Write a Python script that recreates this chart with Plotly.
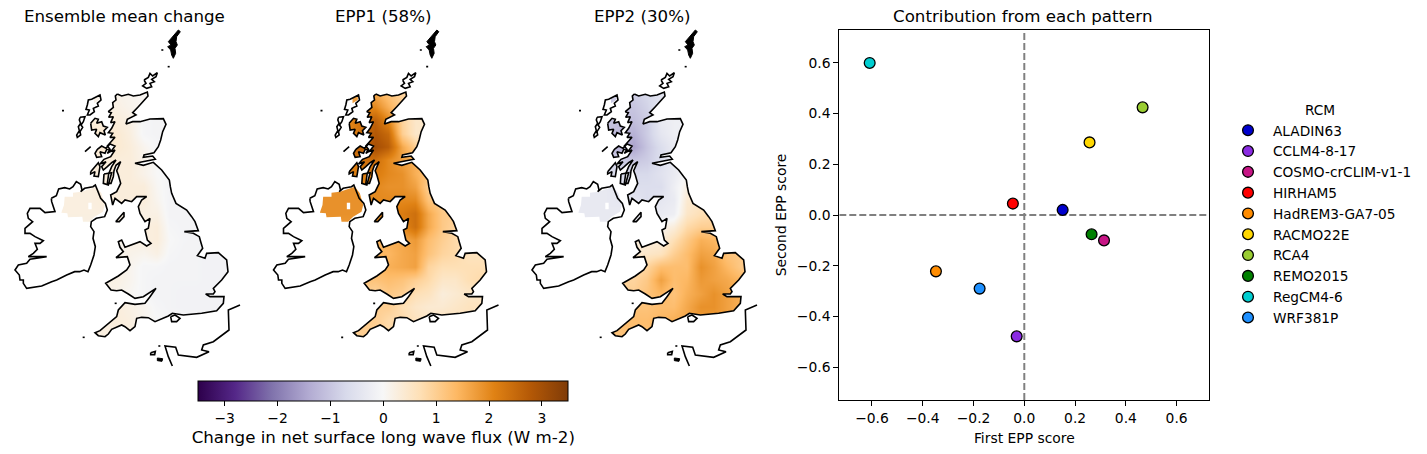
import plotly.graph_objects as go

W, H = 1419, 446
OX, OY = 8, 8   # the page body's own margin
RCMS = ["ALADIN63","CCLM4-8-17","COSMO-crCLIM-v1-1","HIRHAM5","HadREM3-GA7-05","RACMO22E","RCA4","REMO2015","RegCM4-6","WRF381P"]
EPP1_SCORE = [0.151,-0.030,0.314,-0.045,-0.348,0.257,0.466,0.265,-0.609,-0.176]
EPP2_SCORE = [0.020,-0.478,-0.100,0.045,-0.222,0.286,0.424,-0.076,0.599,-0.290]
RCM_COLOURS = ["#0000cd","#8a2be2","#c71585","#ff0000","#ff8c00","#ffd700","#9acd32","#008000","#00ced1","#1e90ff"]
PUOR_R = ["#2d004b","#542788","#8073ac","#b2abd2","#d8daeb","#f7f7f7","#fee0b6","#fdb863","#e08214","#b35806","#7f3b08"]

GRID_X = [190,230,270,310,350,390,430,470,510,550,590,630,670,710]
GRID_Y = [220,260,300,340,380,420,460,500,540,580,620,660,700,740,780,820,860,900,940]

MEAN = [
[.15,.15,.15,.15,.15,.10,.05,.0,.0,.0,.0,.0,.0,.0],
[.2,.2,.2,.2,.2,.12,.05,.0,.0,.0,.0,.0,.0,.0],
[.3,.3,.3,.3,.3,.2,-.05,-.1,-.1,-.1,-.1,-.1,-.1,-.1],
[.35,.35,.4,.4,.4,.25,-.05,-.1,-.1,-.1,-.1,-.1,-.1,-.1],
[.35,.35,.4,.4,.4,.3,.1,-.05,-.1,-.1,-.1,-.1,-.1,-.1],
[.3,.3,.3,.3,.3,.3,.15,.0,-.05,-.1,-.1,-.1,-.1,-.1],
[.3,.3,.3,.3,.3,.3,.15,.0,-.05,-.1,-.1,-.1,-.1,-.1],
[.25,.25,.25,.3,.3,.3,.3,.05,-.08,-.1,-.1,-.1,-.1,-.1],
[.25,.25,.25,.3,.3,.3,.3,.1,-.1,-.1,-.1,-.1,-.1,-.1],
[.25,.25,.25,.25,.25,.25,.2,.2,-.1,-.1,-.1,-.1,-.1,-.1],
[.2,.2,.2,.2,.2,.2,.25,.3,-.05,-.1,-.1,-.1,-.1,-.1],
[.1,.1,.1,.1,.1,.2,.25,.3,.0,-.08,-.1,-.1,-.1,-.1],
[.1,.1,.1,.1,.1,.15,.1,.2,-.05,-.1,-.1,-.12,-.12,-.12],
[.2,.2,.2,.2,.2,.1,-.05,-.05,-.1,-.1,-.1,-.12,-.12,-.12],
[.2,.2,.2,.2,.2,.1,-.05,-.1,-.1,-.1,-.1,-.12,-.12,-.12],
[.15,.15,.15,.15,.15,.05,-.05,-.1,-.1,-.12,-.12,-.12,-.12,-.12],
[.3,.3,.3,.3,.3,.2,.1,-.05,-.1,-.12,-.12,-.12,-.12,-.12],
[.25,.25,.25,.25,.3,.25,.1,.0,-.05,-.05,-.05,-.05,-.05,-.05],
[.25,.25,.25,.25,.25,.25,.1,.0,-.05,-.05,-.05,-.05,-.05,-.05],
]
EPP1 = [
[1.6,1.6,1.6,1.6,1.6,1.2,.9,.9,.9,.9,.9,.9,.9,.9],
[1.8,1.8,1.8,2.0,2.0,1.5,1.0,.8,.8,.8,.8,.8,.8,.8],
[2.0,2.0,2.0,2.4,2.6,2.0,.9,.5,.5,.5,.5,.5,.5,.5],
[2.0,2.0,2.0,2.4,2.8,2.5,1.0,.5,.5,.5,.5,.5,.5,.5],
[2.4,2.4,2.4,2.6,3.0,2.7,1.6,1.0,1.0,1.0,1.0,1.0,1.0,1.0],
[2.2,2.2,2.2,2.4,2.4,2.0,1.7,1.5,1.5,1.5,1.5,1.5,1.5,1.5],
[2.0,2.0,2.0,2.2,2.2,2.0,1.9,1.5,1.2,1.2,1.2,1.2,1.2,1.2],
[1.9,1.9,1.9,1.9,2.0,1.9,1.9,1.7,1.0,1.0,1.0,1.0,1.0,1.0],
[1.9,1.9,1.9,1.9,2.0,2.0,2.0,2.0,1.2,1.0,1.0,1.0,1.0,1.0],
[1.9,1.9,1.9,1.9,2.0,2.1,2.2,2.4,1.6,1.1,1.0,1.0,1.0,1.0],
[1.8,1.8,1.8,1.8,1.8,1.9,2.0,2.4,1.6,1.1,.9,.9,.9,.9],
[1.4,1.4,1.4,1.4,1.4,1.5,1.6,1.8,1.3,1.0,.8,.7,.7,.7],
[1.4,1.4,1.4,1.4,1.4,1.4,1.6,1.7,1.2,.9,.8,.6,.6,.6],
[1.4,1.4,1.4,1.4,1.4,1.5,1.6,1.7,.9,.7,.7,.7,.7,.7],
[1.2,1.2,1.2,1.2,1.2,1.3,1.2,1.0,.8,.5,.5,.7,.8,.8],
[1.0,1.0,1.0,1.0,.9,1.1,1.0,.7,.6,.3,.4,.5,.5,.5],
[1.0,1.0,1.0,1.0,1.0,1.0,.7,.5,.4,.4,.5,.6,.6,.6],
[1.1,1.1,1.1,1.1,1.0,.8,.8,.6,.5,.6,.6,.6,.6,.6],
[1.0,1.0,1.0,1.0,1.0,.8,.8,.6,.5,.6,.6,.6,.6,.6],
]
EPP2 = [
[-.9,-.9,-.9,-.9,-.9,-.7,-.5,-.4,-.4,-.4,-.4,-.4,-.4,-.4],
[-1.0,-1.0,-1.0,-1.0,-1.0,-.8,-.4,-.3,-.3,-.3,-.3,-.3,-.3,-.3],
[-1.0,-1.0,-1.0,-1.1,-1.1,-.9,-.3,-.2,-.2,-.2,-.2,-.2,-.2,-.2],
[-1.0,-1.0,-1.1,-1.2,-1.3,-.9,-.4,-.2,-.2,-.2,-.2,-.2,-.2,-.2],
[-1.0,-1.0,-1.1,-1.3,-1.5,-1.0,-.6,-.3,-.3,-.3,-.3,-.3,-.3,-.3],
[-.8,-.8,-.8,-.9,-1.0,-.9,-.6,-.3,-.2,-.2,-.2,-.2,-.2,-.2],
[-.6,-.6,-.6,-.7,-.7,-.7,-.5,-.3,.0,.0,.0,.0,.0,.0],
[-.35,-.35,-.35,-.5,-.6,-.6,-.6,-.2,.2,.2,.2,.2,.2,.2],
[-.35,-.35,-.35,-.4,-.4,-.6,-.4,-.3,.4,.5,.5,.5,.5,.5],
[-.35,-.35,-.35,-.3,-.3,-.3,-.3,-.2,.5,.7,.8,.8,.8,.8],
[-.3,-.3,-.3,-.2,-.1,.0,.1,.3,.8,1.0,1.0,1.0,1.0,1.0],
[.3,.3,.3,.3,.3,.3,.3,.7,1.1,1.5,1.4,1.2,1.2,1.2],
[.4,.4,.4,.4,.4,.5,.6,1.0,1.3,1.7,1.6,1.2,1.1,1.1],
[.7,.7,.7,.7,.7,.9,1.3,1.3,1.3,1.9,1.7,1.4,1.1,1.1],
[.9,.9,.9,.9,.9,1.1,1.7,1.3,1.4,1.8,1.7,1.6,1.4,1.4],
[1.0,1.0,1.0,1.0,1.0,1.2,1.4,1.2,1.5,1.7,1.9,1.7,1.5,1.5],
[1.2,1.2,1.2,1.2,1.2,1.2,1.3,1.3,1.6,1.9,1.9,1.7,1.5,1.5],
[1.3,1.3,1.3,1.3,1.3,1.3,1.4,1.5,1.6,1.8,1.8,1.7,1.5,1.5],
[1.2,1.2,1.2,1.2,1.3,1.3,1.4,1.5,1.6,1.8,1.8,1.7,1.5,1.5],
]

GB = [(352,222),(365,228),(385,223),(400,228),(420,225),(442,216),(444,228),(432,240),(415,260),(398,278),(408,285),(382,298),(378,312),(398,305),(420,305),(450,297),(490,296),(498,313),(488,335),(482,360),(475,380),(462,398),(432,405),(430,412),(458,408),(466,418),(440,423),(405,430),(430,436),(460,427),(485,450),(497,465),(508,480),(511,500),(515,520),(528,550),(545,560),(560,570),(575,590),(585,605),(595,632),(580,633),(553,635),(580,640),(598,650),(603,668),(608,685),(592,707),(615,715),(620,700),(655,698),(680,720),(684,755),(665,780),(655,790),(640,805),(645,815),(640,822),(617,822),(630,830),(672,830),(670,850),(650,872),(605,880),(550,885),(517,880),(505,888),(490,895),(465,905),(445,893),(425,892),(410,895),(405,920),(390,932),(375,920),(365,915),(335,928),(325,942),(315,950),(295,947),(285,938),(300,932),(330,905),(350,890),(355,870),(375,848),(405,853),(435,850),(450,830),(468,805),(430,830),(405,835),(385,822),(365,810),(350,812),(333,810),(317,790),(340,778),(355,768),(380,750),(390,735),(382,710),(348,713),(370,695),(360,682),(355,665),(365,660),(375,682),(395,675),(420,665),(440,678),(453,670),(442,660),(435,630),(445,625),(450,595),(435,605),(420,580),(415,560),(425,540),(440,530),(410,530),(395,545),(375,540),(365,550),(345,535),(338,555),(332,525),(350,515),(362,490),(355,465),(350,452),(362,425),(348,436),(342,452),(340,470),(333,490),(322,490),(326,462),(335,440),(348,420),(335,428),(322,440),(310,450),(305,440),(318,425),(300,432),(312,418),(332,410),(345,390),(328,396),(322,400),(330,388),(322,378),(345,352),(330,352),(338,340),(325,338),(335,325),(345,305),(332,308),(340,290),(326,292),(334,278),(325,275),(340,262),(338,248),(348,240),(346,228),(352,222)]
IRELAND = [(154,535),(169,527),(176,507),(194,503),(209,507),(219,500),(229,485),(242,493),(246,510),(242,515),(254,505),(279,500),(286,495),(294,515),(302,535),(316,550),(322,570),(314,590),(289,595),(274,605),(272,620),(282,635),(279,655),(286,680),(282,705),(272,735),(264,755),(252,750),(239,755),(224,755),(200,765),(170,780),(155,785),(125,798),(100,802),(80,805),(70,790),(70,780),(60,780),(58,765),(45,750),(55,735),(80,730),(90,718),(140,710),(85,710),(100,700),(112,688),(105,670),(120,670),(130,662),(105,650),(90,640),(75,640),(75,625),(90,610),(98,605),(85,595),(82,580),(90,565),(120,565),(135,578),(165,575),(155,545),(154,535)]
NI_AREA = [(194,530),(219,530),(219,518),(244,515),(289,500),(304,520),(314,555),(309,575),(284,590),(269,605),(249,605),(247,590),(204,592),(202,580),(184,578),(192,555),(194,530)]
NI_GAP = [(265,548),(275,548),(275,568),(265,568),(265,548)]
MAN = [(347,605),(372,577),(372,590),(358,605),(347,605)]
WIGHT = [(512,890),(525,885),(540,895),(530,905),(515,905),(512,890)]
LEWIS = [(262,255),(265,240),(275,238),(285,232),(300,225),(303,240),(292,250),(295,258),(280,265),(283,275),(270,285),(262,285),(268,270),(258,268),(262,255)]
LEWIS_LAND = [(282,234),(298,228),(298,240),(282,250),(282,234)]
UIST = [(240,292),(255,290),(250,305),(243,315),(248,322),(240,335),(242,345),(232,352),(230,345),(238,332),(235,320),(242,310),(238,300),(240,292)]
SKYE = [(272,310),(285,295),(295,298),(290,310),(305,305),(310,318),(322,322),(312,332),(316,345),(300,338),(295,350),(285,340),(290,328),(275,330),(272,310)]
MULL = [(292,388),(305,378),(318,385),(330,372),(345,378),(335,392),(320,388),(315,400),(300,395),(305,410),(290,412),(285,400),(292,388)]
COLL = [(255,395),(272,380),(258,392),(255,395)]
ISLAY = [(272,455),(285,440),(295,428),(300,440),(295,470),(282,468),(285,455),(272,462),(272,455)]
ARRAN = [(312,462),(335,458),(325,495),(310,490),(312,462)]
ORKNEY = [(432,180),(445,172),(450,160),(458,168),(472,158),(468,170),(455,178),(463,185),(450,190),(455,200),(440,205),(428,198),(438,190),(432,180)]
SHETLAND = [(535,30),(541,35),(530,50),(528,65),(532,75),(525,85),(527,100),(520,115),(515,105),(512,90),(503,80),(513,75),(505,65),(518,50),(525,42),(535,30)]
FRANCE = [(720,855),(685,870),(687,930),(640,965),(610,975),(605,990),(627,995),(590,1012),(535,1005),(527,982),(495,978),(505,1010),(517,1038)]
JERSEY = [(472,1014),(488,1016),(486,1024),(472,1022),(472,1014)]
GUERNSEY = [(452,998),(466,994),(464,1004),(452,1004),(452,998)]
SMALL_ISLES = [[(186,272),(192,272)],[(484,90),(490,90)],[(503,140),(509,140)],[(248,952),(254,952)],[(344,850),(350,850)],[(475,978),(481,978)]]

LAND_HOLES = [GB, NI_AREA, LEWIS_LAND, SKYE, MULL, ISLAY, ARRAN, MAN]
OUTLINES = [GB, IRELAND, MAN, WIGHT, LEWIS, UIST, SKYE, MULL, COLL, ISLAY, ARRAN, ORKNEY, FRANCE, GUERNSEY] + SMALL_ISLES
BLACK_ISLES = [SHETLAND, JERSEY]

def area(r):
    return sum(a[0]*b[1]-b[0]*a[1] for a, b in zip(r, r[1:]+r[:1]))

def split(rings):
    xs, ys = [], []
    for r in rings:
        xs += [p[0] for p in r] + [None]
        ys += [p[1] for p in r] + [None]
    return xs, ys

OUTER = [(150,170),(760,170),(760,990),(150,990),(150,170)]
outer = OUTER if area(OUTER) > 0 else OUTER[::-1]
holes = [r[::-1] if area(r) > 0 else r for r in LAND_HOLES]
gap = NI_GAP if area(NI_GAP) > 0 else NI_GAP[::-1]
mx, my = split([outer] + holes + [gap])
cx, cy = split(OUTLINES)
bx, by = split(BLACK_ISLES)

fig = go.Figure()
panels = [(0, MEAN, "x", "y"), (258.5, EPP1, "x2", "y2"), (517, EPP2, "x3", "y3")]
for off, grid, xa, ya in panels:
    fig.add_trace(go.Heatmap(x=GRID_X, y=GRID_Y, z=grid, coloraxis="coloraxis", zsmooth="best", xaxis=xa, yaxis=ya, hoverinfo="skip"))
    fig.add_trace(go.Scatter(x=mx, y=my, mode="lines", fill="toself", fillcolor="white", line=dict(width=0), xaxis=xa, yaxis=ya, showlegend=False, hoverinfo="skip"))
    fig.add_trace(go.Scatter(x=cx, y=cy, mode="lines", line=dict(color="black", width=1.6), xaxis=xa, yaxis=ya, showlegend=False, hoverinfo="skip"))
    fig.add_trace(go.Scatter(x=bx, y=by, mode="lines", fill="toself", fillcolor="black", line=dict(color="black", width=1), xaxis=xa, yaxis=ya, showlegend=False, hoverinfo="skip"))
    fig.layout["xaxis"+xa[1:]] = dict(domain=[(off-OX)/W if off else 0, (off-OX+260)/W], range=[OX*3 if not off else 0, 780], visible=False, fixedrange=True)
    fig.layout["yaxis"+ya[1:]] = dict(domain=[1-(370-OY)/H, 1-(20-OY)/H], range=[1050,0], visible=False, fixedrange=True)

for name, px_, py_, col in zip(RCMS, EPP1_SCORE, EPP2_SCORE, RCM_COLOURS):
    fig.add_trace(go.Scatter(x=[px_], y=[py_], mode="markers", name=name, xaxis="x4", yaxis="y4",
                             marker=dict(color=col, size=10.8, line=dict(color="black", width=1.3))))

TICK = 13.89
AX = dict(range=[-0.7287,0.7287], tickvals=[-0.6,-0.4,-0.2,0,0.2,0.4,0.6], tickformat=".1f",
          ticks="outside", ticklen=5, tickcolor="black", showgrid=False, zeroline=False, showline=True, mirror=True,
          linecolor="black", linewidth=1, tickfont=dict(size=TICK), fixedrange=True)
fig.update_layout(
    width=W, height=H, margin=dict(l=0,r=0,t=0,b=0), autosize=False, paper_bgcolor="white", plot_bgcolor="white",
    font=dict(family="DejaVu Sans", color="black", size=TICK),
    xaxis4=dict(AX, domain=[(839.3-OX)/W,(1209.3-OX)/W], anchor="y4", title=dict(text="First EPP score", font=dict(size=TICK), standoff=8)),
    yaxis4=dict(AX, domain=[1-(400-OY)/H,1-(30-OY)/H], anchor="x4", title=dict(text="Second EPP score", font=dict(size=TICK), standoff=6)),
    coloraxis=dict(cmin=-3.5, cmax=3.5, colorscale=[[i/10,c] for i,c in enumerate(PUOR_R)],
                   colorbar=dict(orientation="h", lenmode="pixels", len=370, thicknessmode="pixels", thickness=19.5,
                                 x=(383.3-OX)/W, xanchor="center", y=1-(381-OY)/H, yanchor="top", xpad=0, ypad=0,
                                 outlinewidth=1, outlinecolor="black", ticks="outside", ticklen=5, tickcolor="black",
                                 tickvals=[-3,-2,-1,0,1,2,3], tickfont=dict(size=TICK),
                                 title=dict(text="Change in net surface long wave flux (W m-2)", side="bottom", font=dict(size=16.67)))),
    legend=dict(x=(1223-OX)/W, xanchor="left", y=1-(97-OY)/H, yanchor="top", bgcolor="rgba(0,0,0,0)", font=dict(size=13.7), itemwidth=40,
                entrywidth=146, entrywidthmode="pixels",
                title=dict(text="RCM", side="top center", font=dict(size=13.7)), itemclick=False, itemdoubleclick=False),
    shapes=[dict(type="line", xref="x4", yref="y4", x0=-0.7287, x1=0.7287, y0=0, y1=0, line=dict(color="gray", width=2, dash="7px,3px"), layer="below"),
            dict(type="line", xref="x4", yref="y4", y0=-0.7287, y1=0.7287, x0=0, x1=0, line=dict(color="gray", width=2, dash="7px,3px"), layer="below")],
    annotations=[dict(text=t, xref="paper", yref="paper", x=(cxp-OX)/W, y=1-(yp-OY)/H, xanchor="center", yanchor="middle", showarrow=False, font=dict(size=16.67))
                 for t, cxp, yp in [("Ensemble mean change",124,16),("EPP1 (58%)",383,16),("EPP2 (30%)",642,16),("Contribution from each pattern",1023,17)]],
    showlegend=True,
)
fig.write_html("out.html")
